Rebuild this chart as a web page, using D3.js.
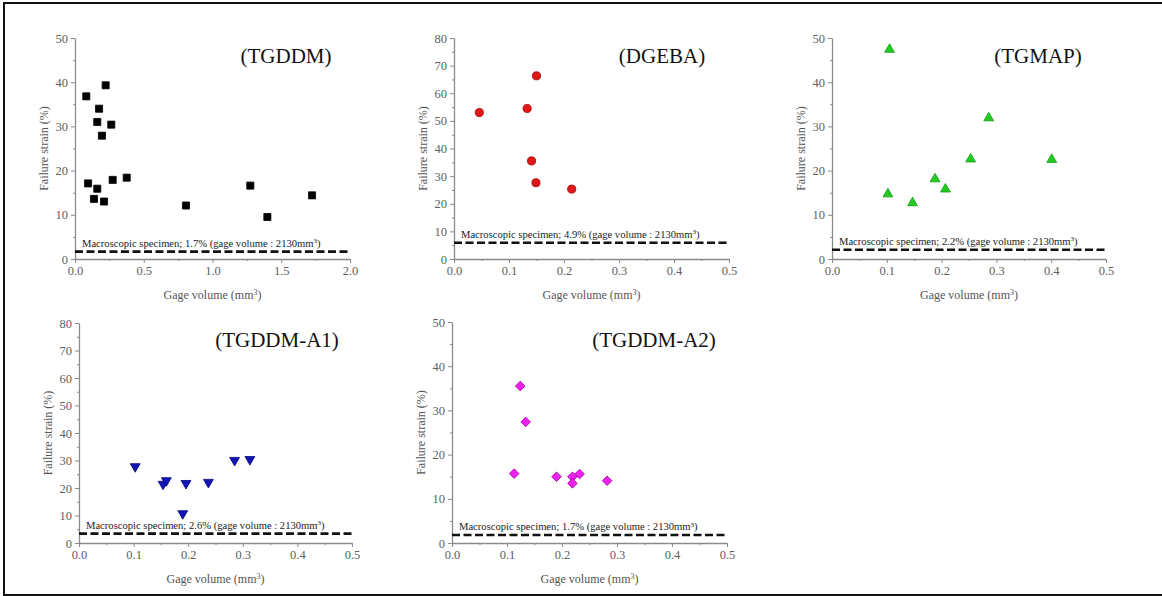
<!DOCTYPE html>
<html><head><meta charset="utf-8">
<script src="https://cdn.jsdelivr.net/npm/d3@7"></script>
<style>
html,body{margin:0;padding:0;background:#fff;}
svg{display:block;}
text{font-family:"Liberation Serif","Times New Roman",serif;}
</style></head>
<body><svg id="c" width="1162" height="596" font-family="Liberation Serif, serif"></svg>
<script>
// ---- data ----
const panelNames = ["(TGDDM)", "(DGEBA)", "(TGMAP)", "(TGDDM-A1)", "(TGDDM-A2)"];
const tgddmX = [0.082,0.223,0.175,0.162,0.264,0.196,0.095,0.162,0.138,0.211,0.274,0.376,0.807,1.275,1.399,1.724];
const tgddmY = [36.8,39.3,34.0,31.0,30.4,27.9,17.1,15.9,13.6,13.0,17.9,18.4,12.1,16.6,9.5,14.4];
const dgebaX = [0.046,0.133,0.150,0.141,0.149,0.214];
const dgebaY = [53.0,54.5,66.3,35.5,27.6,25.3];
const tgmapX = [0.105,0.102,0.147,0.188,0.207,0.253,0.286,0.401];
const tgmapY = [47.4,14.7,12.7,18.1,15.8,22.6,31.9,22.5];
const a1X = [0.103,0.154,0.160,0.196,0.237,0.190,0.285,0.313];
const a1Y = [27.8,21.4,22.7,21.7,22.1,10.7,30.1,30.4];
const a2X = [0.124,0.134,0.113,0.190,0.219,0.219,0.232,0.282];
const a2Y = [35.5,27.4,15.7,15.0,15.0,13.5,15.6,14.1];
const macroLabels = ["1.7%", "4.9%", "2.2%", "2.6%", "1.7%"];
const macroLevel = [1.66, 5.9, 2.1, 3.4, 1.8];
const xMax = [2.0, 0.5, 0.5, 0.5, 0.5];
const yMax = [50, 80, 50, 80, 50];
const xTickStep = [0.5, 0.1, 0.1, 0.1, 0.1];
const yTickStep = [10, 10, 10, 10, 10];

// ---- layout / style (not data) ----
const layout = [
  {l:75,  r:350,  t:38,  b:259, tx:286, ty:63},
  {l:454, r:729,  t:38,  b:259, tx:662, ty:63},
  {l:832, r:1106, t:38,  b:259, tx:1038, ty:63},
  {l:79,  r:352,  t:323, b:543, tx:277, ty:347},
  {l:452, r:727,  t:322, b:543, tx:654, ty:347}
];
const styles = [
  {shape:"square",  fill:"#000000", stroke:"#000000"},
  {shape:"circle",  fill:"#e01818", stroke:"#a00000"},
  {shape:"triUp",   fill:"#22cc22", stroke:"#119911"},
  {shape:"triDown", fill:"#1515b5", stroke:"#000080"},
  {shape:"diamond", fill:"#ee22ee", stroke:"#aa00aa"}
];
const seriesX = [tgddmX, dgebaX, tgmapX, a1X, a2X];
const seriesY = [tgddmY, dgebaY, tgmapY, a1Y, a2Y];
const FONT = "Liberation Serif, Times New Roman, serif";

const svg = d3.select("#c");
// frame
svg.append("path").attr("d","M1170,3 H4 V595 H1170").attr("fill","none").attr("stroke","#111").attr("stroke-width",2);

const axisCol = "#8a8a8a", labCol = "#606060";

panelNames.forEach((name,i)=>{
  const L = layout[i];
  const x = d3.scaleLinear().domain([0,xMax[i]]).range([L.l,L.r]);
  const y = d3.scaleLinear().domain([0,yMax[i]]).range([L.b,L.t]);
  const g = svg.append("g").attr("font-family",FONT);
  const xt = d3.range(0, xMax[i]+1e-9, xTickStep[i]);
  const xm = d3.range(xTickStep[i]/2, xMax[i], xTickStep[i]);
  const yt = d3.range(0, yMax[i]+1e-9, yTickStep[i]);
  const ym = d3.range(yTickStep[i]/2, yMax[i], yTickStep[i]);

  // minor ticks
  g.append("g").attr("transform",`translate(0,${L.b})`)
    .call(d3.axisBottom(x).tickValues(xm).tickSize(2).tickFormat(""))
    .call(a=>{a.select(".domain").remove(); a.selectAll("line").attr("stroke",axisCol);});
  g.append("g").attr("transform",`translate(${L.l},0)`)
    .call(d3.axisLeft(y).tickValues(ym).tickSize(2).tickFormat(""))
    .call(a=>{a.select(".domain").remove(); a.selectAll("line").attr("stroke",axisCol);});
  // major
  const ax = g.append("g").attr("transform",`translate(0,${L.b})`)
    .call(d3.axisBottom(x).tickValues(xt).tickSize(4).tickSizeOuter(0).tickPadding(3).tickFormat(d3.format(".1f")));
  const ay = g.append("g").attr("transform",`translate(${L.l},0)`)
    .call(d3.axisLeft(y).tickValues(yt).tickSize(4).tickSizeOuter(0).tickPadding(3).tickFormat(d3.format("d")));
  [ax,ay].forEach(a=>{
    a.attr("font-family",FONT).attr("font-size",12.5);
    a.select(".domain").attr("stroke",axisCol).attr("stroke-width",1.3);
    a.selectAll(".tick line").attr("stroke",axisCol);
    a.selectAll(".tick text").attr("fill",labCol).attr("font-family",FONT);
  });

  // axis titles
  const xtitle = g.append("text").attr("x",(L.l+L.r)/2).attr("y",L.b+40)
    .attr("text-anchor","middle").attr("fill","#555").attr("font-size",12);
  xtitle.append("tspan").text("Gage volume (mm");
  xtitle.append("tspan").attr("dy",-4).attr("font-size",8).text("3");
  xtitle.append("tspan").attr("dy",4).text(")");
  g.append("text").attr("transform",`translate(${L.l-27},${(L.t+L.b)/2}) rotate(-90)`)
    .attr("text-anchor","middle").attr("fill","#555").attr("font-size",12).text("Failure strain (%)");

  // panel title
  g.append("text").attr("x",L.tx).attr("y",L.ty).attr("text-anchor","middle")
    .attr("fill","#111").attr("font-size",21).text(name);

  // macroscopic line
  g.append("line").attr("x1",x(0)).attr("x2",x(xMax[i])).attr("y1",y(macroLevel[i])).attr("y2",y(macroLevel[i]))
    .attr("stroke","#111").attr("stroke-width",2.6).attr("stroke-dasharray","8,3.5");
  const mt = g.append("text").attr("x",L.l+7).attr("y",y(macroLevel[i])-5)
    .attr("fill","#222").attr("font-size",10.6);
  mt.append("tspan").text(`Macroscopic specimen; ${macroLabels[i]} (gage volume : 2130mm`);
  mt.append("tspan").attr("dy",-3.5).attr("font-size",7).text("3");
  mt.append("tspan").attr("dy",3.5).text(")");

  // points
  const st = styles[i];
  let sym, rot = 0;
  if (st.shape==="square") sym = d3.symbol().type(d3.symbolSquare).size(50);
  else if (st.shape==="circle") sym = d3.symbol().type(d3.symbolCircle).size(52);
  else if (st.shape==="triUp") sym = d3.symbol().type(d3.symbolTriangle).size(42);
  else if (st.shape==="triDown") {sym = d3.symbol().type(d3.symbolTriangle).size(42); rot = 180;}
  else {sym = d3.symbol().type(d3.symbolSquare).size(46); rot = 45;}
  const pts = seriesX[i].map((v,k)=>[v, seriesY[i][k]]);
  g.append("g").selectAll("path").data(pts).join("path")
    .attr("d",sym)
    .attr("transform",d=>`translate(${x(d[0])},${y(d[1])}) rotate(${rot})`)
    .attr("fill",st.fill).attr("stroke",st.stroke).attr("stroke-width",0.8);
});
</script></body></html>
